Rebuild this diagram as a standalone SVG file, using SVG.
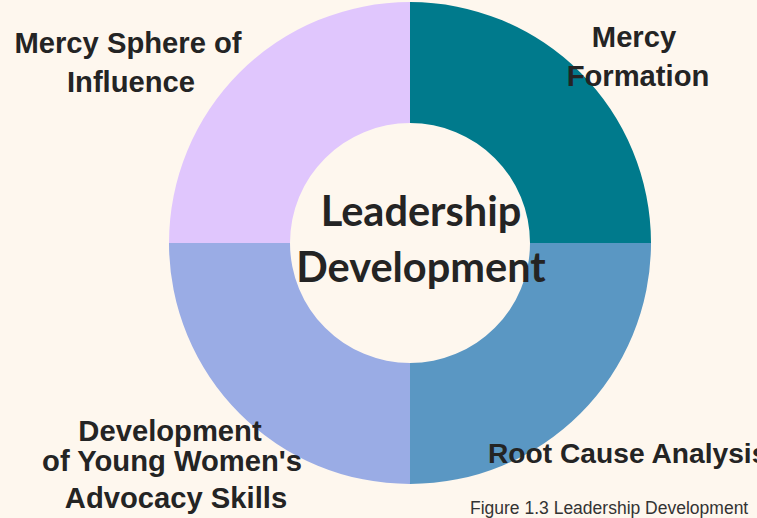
<svg xmlns="http://www.w3.org/2000/svg" width="757" height="518" viewBox="0 0 757 518">
<style>
.lbl{font-family:"Liberation Sans",Arial,sans-serif;font-weight:bold;font-size:29.2px;fill:#242424;text-anchor:middle}
.ctr{font-family:Lato,"Liberation Sans",sans-serif;font-weight:bold;font-size:41.5px;fill:#242424;text-anchor:middle}
.cap{font-family:"Liberation Sans",Arial,sans-serif;font-size:17.5px;fill:#333333}
</style>
<rect width="757" height="518" fill="#FEF7EE"/>
<g id="ring">
<g id="formation"><path d="M410 2 A241 241 0 0 1 651 243 L530 243 A120 120 0 0 0 410 123 Z" fill="#007A8C"/></g>
<g id="rootcause"><path d="M651 243 A241 241 0 0 1 410 484 L410 363 A120 120 0 0 0 530 243 Z" fill="#5A97C3"/></g>
<g id="advocacy"><path d="M410 484 A241 241 0 0 1 169 243 L290 243 A120 120 0 0 0 410 363 Z" fill="#9AACE5"/></g>
<g id="sphere"><path d="M169 243 A241 241 0 0 1 410 2 L410 123 A120 120 0 0 0 290 243 Z" fill="#E0C6FD"/></g>
</g>
<g id="connectors"/>
<g id="center"><text class="ctr" x="421" y="226">Leadership</text><text class="ctr" x="421" y="282">Development</text></g>
<g id="sphere-label"><text class="lbl" x="128" y="53">Mercy Sphere of</text><text class="lbl" x="131" y="92">Influence</text></g>
<g id="formation-label"><text class="lbl" x="634" y="47">Mercy</text><text class="lbl" x="638" y="86">Formation</text></g>
<g id="advocacy-label"><text class="lbl" x="170" y="441">Development</text><text class="lbl" x="172" y="471">of Young Women's</text><text class="lbl" x="176" y="508">Advocacy Skills</text></g>
<g id="rootcause-label"><text class="lbl" x="488" y="463" style="text-anchor:start;font-size:28.2px">Root Cause Analysis</text></g>
<text class="cap" x="470" y="514">Figure 1.3 Leadership Development</text>
</svg>
